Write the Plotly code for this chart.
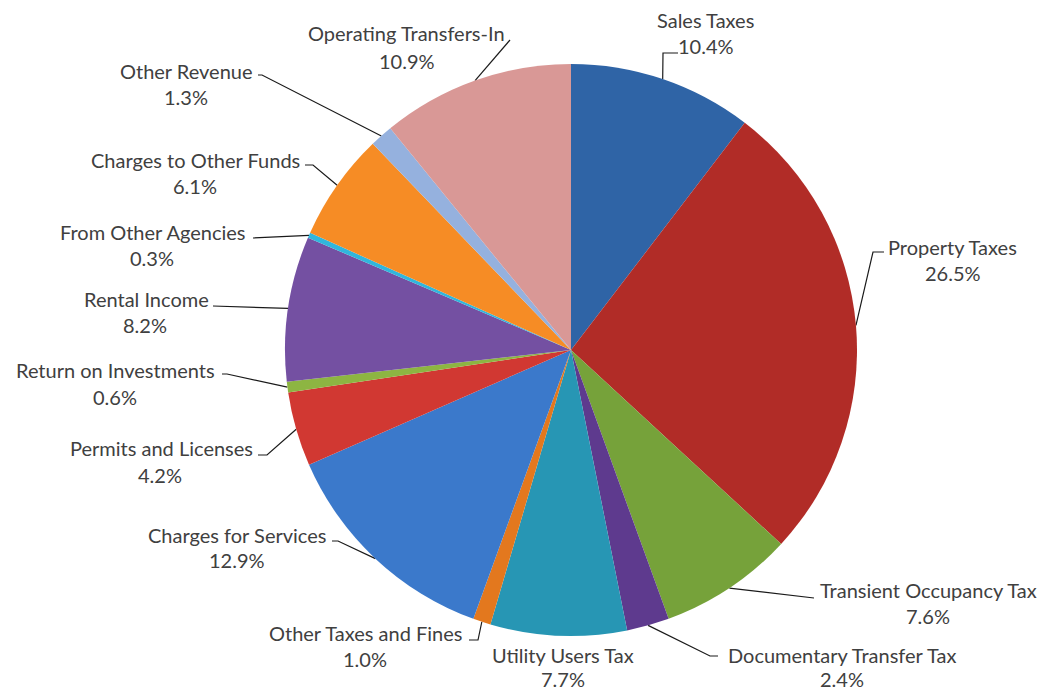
import math
import plotly.graph_objects as go

# Revenue sources, clockwise from 12 o'clock
categories = [
    "Sales Taxes", "Property Taxes", "Transient Occupancy Tax",
    "Documentary Transfer Tax", "Utility Users Tax", "Other Taxes and Fines",
    "Charges for Services", "Permits and Licenses", "Return on Investments",
    "Rental Income", "From Other Agencies", "Charges to Other Funds",
    "Other Revenue", "Operating Transfers-In",
]
shares = [10.4, 26.5, 7.6, 2.4, 7.7, 1.0, 12.9, 4.2, 0.6, 8.2, 0.3, 6.1, 1.3, 10.9]

colors = [
    "#2f64a6", "#b12c27", "#76a23a", "#5e3a8e", "#2796b4", "#e3781e",
    "#3b79cb", "#d13832", "#8db542", "#7450a2", "#31b6dc", "#f68c25",
    "#95b1de", "#d99896",
]

W, H = 1047, 691
CX, CY, R = 571, 350, 286

# label placement (pixel space): name line centre, percent line centre,
# and the leader path from the slice edge (elbow, end), None = no leader
label_layout = [
    ((705, 20), (706, 46), [(663, 53), (678, 53)]),
    ((952, 247), (953, 273), [(873, 252), (884, 252)]),
    ((928, 590), (928, 616), [(810, 598), (814, 598)]),
    ((842, 655), (842, 679), [(710, 656), (718, 656)]),
    ((563, 655), (563, 679), None),
    ((365, 633), (365, 659), [(478, 640), (469, 640)]),
    ((237, 535), (237, 560), [(338, 541), (332, 541)]),
    ((161, 448), (160, 475), [(267, 455), (258, 455)]),
    ((115, 370), (115, 397), [(227, 374), (222, 374)]),
    ((146, 299), (145, 325), [(218, 306), (213, 306)]),
    ((152, 232), (152, 258), [(258, 238), (253, 238)]),
    ((195, 160), (195, 186), [(313, 165), (305, 165)]),
    ((186, 71), (186, 97), [(262, 75), (258, 75)]),
    ((406, 33), (407, 61), [(510, 40), (510, 40)]),
]

FONT = dict(family="Lato, 'Open Sans', sans-serif", size=20, color="#404040")

fig = go.Figure()

fig.add_trace(go.Pie(
    labels=categories,
    values=shares,
    sort=False,
    direction="clockwise",
    rotation=0,
    marker=dict(colors=colors, line=dict(width=0)),
    textinfo="none",
    hoverinfo="label+percent",
    showlegend=False,
    domain=dict(x=[(CX - R) / W, (CX + R) / W],
                y=[1 - (CY + R) / H, 1 - (CY - R) / H]),
))

total = sum(shares)
cum = 0.0
annotations = []
for name, v, (p1, p2, leader) in zip(categories, shares, label_layout):
    theta = 2 * math.pi * (cum + v / 2) / total
    cum += v
    if leader is not None:
        ex = CX + R * math.sin(theta)
        ey = CY - R * math.cos(theta)
        xs = [ex] + [p[0] for p in leader]
        ys = [ey] + [p[1] for p in leader]
        fig.add_trace(go.Scatter(
            x=xs, y=ys, mode="lines",
            line=dict(color="#1a1a1a", width=1.2),
            hoverinfo="skip", showlegend=False,
        ))
    annotations.append(dict(x=p1[0], y=p1[1], text=name, showarrow=False,
                            xref="x", yref="y", font=FONT,
                            xanchor="center", yanchor="middle"))
    annotations.append(dict(x=p2[0], y=p2[1], text=f"{v:.1f}%", showarrow=False,
                            xref="x", yref="y", font=FONT,
                            xanchor="center", yanchor="middle"))

fig.update_layout(
    width=W, height=H,
    margin=dict(l=0, r=0, t=0, b=0),
    paper_bgcolor="white",
    plot_bgcolor="rgba(0,0,0,0)",
    xaxis=dict(range=[0, W], visible=False, fixedrange=True),
    yaxis=dict(range=[H, 0], visible=False, fixedrange=True),
    annotations=annotations,
    showlegend=False,
)

fig.write_html("out.html")
